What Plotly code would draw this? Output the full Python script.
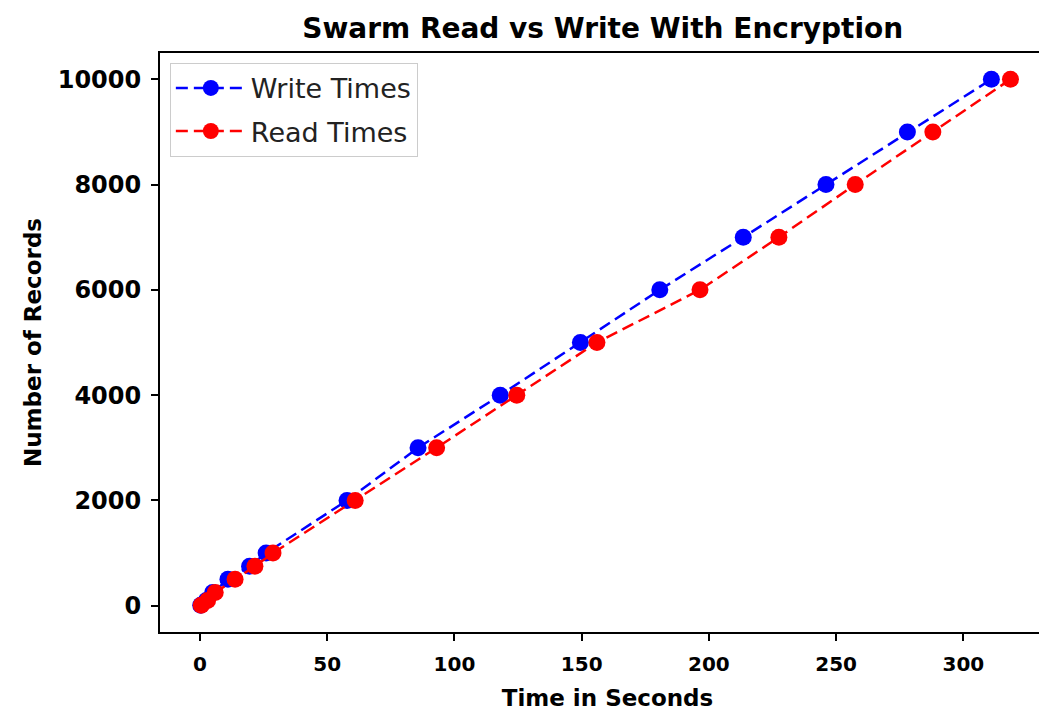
import plotly.graph_objects as go

records = [10, 100, 250, 500, 750, 1000, 2000, 3000, 4000, 5000, 6000, 7000, 8000, 9000, 10000]
write_times = [0.3, 2.5, 5.0, 11.0, 19.5, 26.0, 57.8, 85.7, 118.0, 149.5, 180.7, 213.5, 246.0, 278.0, 311.0]
read_times = [0.5, 3.0, 6.0, 13.8, 21.6, 28.7, 61.0, 93.0, 124.5, 156.0, 196.5, 227.5, 257.5, 288.0, 318.5]

x_ticks = [0, 50, 100, 150, 200, 250, 300]
y_ticks = [0, 2000, 4000, 6000, 8000, 10000]
y_tick_labels = ["0", "2000", "4000", "6000", "8000", "10000"]

FONT = "DejaVu Sans"

fig = go.Figure()
fig.add_trace(go.Scatter(
    x=write_times, y=records, name="Write Times", mode="lines+markers",
    legendgroup="w",
    line=dict(color="blue", width=2.5, dash="12px,6px"),
    marker=dict(color="blue", size=17),
))
fig.add_trace(go.Scatter(
    x=read_times, y=records, name="Read Times", mode="lines+markers",
    legendgroup="r",
    line=dict(color="red", width=2.5, dash="12px,6px"),
    marker=dict(color="red", size=17),
))

axis_common = dict(
    showgrid=False, zeroline=False, showline=True, linecolor="black", linewidth=2,
    mirror=True, ticks="outside", ticklen=7, tickwidth=1.5, tickcolor="black",
    automargin=False,
)

fig.update_layout(
    width=1047, height=719,
    margin=dict(l=152, r=0, t=45, b=95),
    paper_bgcolor="white", plot_bgcolor="white",
    title=dict(text="<b>Swarm Read vs Write With Encryption</b>", x=0.568, xanchor="center",
               y=0.972, yanchor="middle",
               font=dict(family=FONT, size=28, color="black")),
    xaxis=dict(axis_common, range=[-15.7, 336.0], tickvals=x_ticks, ticklabelstandoff=6,
               tickfont=dict(family=FONT, size=20, color="black", weight="bold"),
               title=dict(text="<b>Time in Seconds</b>", standoff=15,
                          font=dict(family=FONT, size=23, color="black"))),
    yaxis=dict(axis_common, range=[-500, 10500], tickvals=y_ticks, ticktext=y_tick_labels,
               ticklabelstandoff=5,
               tickfont=dict(family=FONT, size=24, color="black", weight="bold"),
               title=dict(text="<b>Number of Records</b>", standoff=10,
                          font=dict(family=FONT, size=23, color="black"))),
    legend=dict(x=0.011, y=0.983, xanchor="left", yanchor="top", itemwidth=70,
                traceorder="grouped", tracegroupgap=5,
                bgcolor="rgba(255,255,255,0.8)", bordercolor="#cccccc", borderwidth=1,
                font=dict(family=FONT, size=27, color="#222222")),
    showlegend=True,
)

fig.write_html("out.html")
